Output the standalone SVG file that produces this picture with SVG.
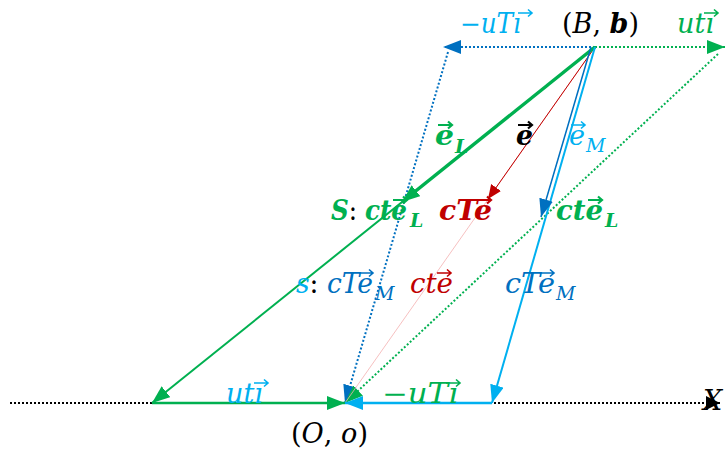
<svg xmlns="http://www.w3.org/2000/svg" width="726" height="450" viewBox="0 0 726 450">
<style>
text{font-family:"DejaVu Serif","Liberation Serif",serif;font-style:italic;font-size:27px}
.b{font-weight:bold}
.n{font-style:normal;font-weight:normal}
.sub{font-size:19px}
.dot{stroke-dasharray:2 2;stroke-width:2;fill:none}
.va{fill:none;stroke-width:1.6}
.vb{fill:none;stroke-width:2.2}
</style>
<defs>
<marker id="mg" markerUnits="userSpaceOnUse" markerWidth="20" markerHeight="16" refX="18" refY="7" orient="auto"><path d="M0,0 L18,7 L0,14 z" fill="#00B050"/></marker>
<marker id="mc" markerUnits="userSpaceOnUse" markerWidth="20" markerHeight="16" refX="18" refY="7" orient="auto"><path d="M0,0 L18,7 L0,14 z" fill="#00B0F0"/></marker>
<marker id="mb" markerUnits="userSpaceOnUse" markerWidth="20" markerHeight="16" refX="18" refY="7" orient="auto"><path d="M0,0 L18,7 L0,14 z" fill="#0070C0"/></marker>
<marker id="mr" markerUnits="userSpaceOnUse" markerWidth="16" markerHeight="14" refX="14" refY="6" orient="auto"><path d="M0,0 L14,6 L0,12 z" fill="#C00000"/></marker>
<marker id="mk" markerUnits="userSpaceOnUse" markerWidth="16" markerHeight="16" refX="14" refY="7" orient="auto"><path d="M0,0 L14,7 L0,14 z" fill="#000"/></marker>
<path id="vec" d="M0,0 H14 M10,-3.5 L14,0 L10,3.5"/>
</defs>
<g id="connectors">
<line x1="10" y1="403" x2="720" y2="403" class="dot" stroke="#000" marker-end="url(#mk)"/>
<line x1="595" y1="47" x2="443" y2="47" class="dot" stroke="#0070C0" marker-end="url(#mb)"/>
<line x1="595" y1="47" x2="725" y2="47" class="dot" stroke="#00B050" marker-end="url(#mg)"/>
<line x1="448" y1="52" x2="345" y2="403" class="dot" stroke="#0070C0" marker-end="url(#mb)"/>
<line x1="718" y1="54" x2="345" y2="403" class="dot" stroke="#00B050" marker-end="url(#mg)"/>
<line x1="595" y1="47" x2="345" y2="403" stroke="#F4B0B0" stroke-width="0.8"/>
<line x1="595" y1="47" x2="488" y2="199" stroke="#C00000" stroke-width="1" marker-end="url(#mr)"/>
<line x1="595" y1="47" x2="152" y2="403" stroke="#00B050" stroke-width="2" marker-end="url(#mg)"/>
<line x1="595" y1="47" x2="402" y2="202" stroke="#00B050" stroke-width="3.5" marker-end="url(#mg)"/>
<line x1="152" y1="403" x2="345" y2="403" stroke="#00B050" stroke-width="2.5" marker-end="url(#mg)"/>
<line x1="595" y1="47" x2="492" y2="403" stroke="#00B0F0" stroke-width="2" marker-end="url(#mc)"/>
<line x1="591" y1="47" x2="541" y2="217" stroke="#0070C0" stroke-width="1.5" marker-end="url(#mb)"/>
<line x1="492" y1="403" x2="345" y2="403" stroke="#00B0F0" stroke-width="2.5" marker-end="url(#mc)"/>
</g>
<g id="labels">
<g id="top-minus-uTi" fill="#00B0F0" stroke="#00B0F0">
<text x="460" y="33" stroke="none" textLength="61" lengthAdjust="spacingAndGlyphs">−uTı</text>
<use href="#vec" x="518" y="13" class="va"/>
</g>
<text id="Bb" x="562" y="33" fill="#000" textLength="77" lengthAdjust="spacingAndGlyphs"><tspan class="n">(</tspan>B<tspan class="n">, </tspan><tspan class="b">b</tspan><tspan class="n">)</tspan></text>
<g id="top-uti" fill="#00B050" stroke="#00B050">
<text x="677" y="33" stroke="none" textLength="37" lengthAdjust="spacingAndGlyphs">utı</text>
<use href="#vec" x="704" y="13" class="va"/>
</g>
<g id="eL" fill="#00B050" stroke="#00B050">
<text x="435" y="145" class="b" stroke="none" textLength="19" lengthAdjust="spacingAndGlyphs">e</text>
<text x="455" y="153" class="b sub" stroke="none">L</text>
<use href="#vec" x="438" y="125" class="vb"/>
</g>
<g id="e" fill="#000" stroke="#000">
<text x="516" y="145" class="b" stroke="none" textLength="17" lengthAdjust="spacingAndGlyphs">e</text>
<use href="#vec" x="518" y="125" class="vb"/>
</g>
<g id="eM" fill="#00B0F0" stroke="#00B0F0">
<text x="569" y="145" stroke="none" textLength="16" lengthAdjust="spacingAndGlyphs">e</text>
<text x="586" y="152" class="sub" stroke="none">M</text>
<use href="#vec" x="571" y="125" class="va"/>
</g>
<g id="S-cteL" fill="#00B050" stroke="#00B050">
<text x="331" y="220" class="b" stroke="none" textLength="76" lengthAdjust="spacingAndGlyphs">S<tspan fill="#000" class="n">: </tspan>cte</text>
<text x="410" y="227" class="b sub" stroke="none">L</text>
<use href="#vec" x="393" y="200" class="vb"/>
</g>
<g id="cTe-bold" fill="#C00000" stroke="#C00000">
<text x="439" y="220" class="b" stroke="none" textLength="53" lengthAdjust="spacingAndGlyphs">cTe</text>
<use href="#vec" x="477" y="200" class="vb"/>
</g>
<g id="cteL-right" fill="#00B050" stroke="#00B050">
<text x="556" y="220" class="b" stroke="none" textLength="47" lengthAdjust="spacingAndGlyphs">cte</text>
<text x="605" y="227" class="b sub" stroke="none">L</text>
<use href="#vec" x="588" y="200" class="vb"/>
</g>
<g id="s-cTeM" fill="#0070C0" stroke="#0070C0">
<text x="296" y="293" stroke="none" textLength="77" lengthAdjust="spacingAndGlyphs"><tspan fill="#00B0F0">s</tspan><tspan fill="#000" class="n">: </tspan>cTe</text>
<text x="375" y="300" class="sub" stroke="none">M</text>
<use href="#vec" x="359" y="273" class="va"/>
</g>
<g id="cte-red" fill="#C00000" stroke="#C00000">
<text x="410" y="293" stroke="none" textLength="43" lengthAdjust="spacingAndGlyphs">cte</text>
<use href="#vec" x="437" y="273" class="va"/>
</g>
<g id="cTeM-right" fill="#0070C0" stroke="#0070C0">
<text x="505" y="293" stroke="none" textLength="50" lengthAdjust="spacingAndGlyphs">cTe</text>
<text x="556" y="300" class="sub" stroke="none">M</text>
<use href="#vec" x="540" y="273" class="va"/>
</g>
<g id="bottom-uti" fill="#00B0F0" stroke="#00B0F0">
<text x="226" y="403" stroke="none" textLength="37" lengthAdjust="spacingAndGlyphs">utı</text>
<use href="#vec" x="254" y="383" class="va"/>
</g>
<g id="bottom-minus-uTi" fill="#00B050" stroke="#00B050">
<text x="382" y="403" stroke="none" textLength="76" lengthAdjust="spacingAndGlyphs">−uTı</text>
<use href="#vec" x="446" y="383" class="va"/>
</g>
<text id="Oo" x="291" y="443" fill="#000" textLength="77" lengthAdjust="spacingAndGlyphs"><tspan class="n">(</tspan>O<tspan class="n">, </tspan>o<tspan class="n">)</tspan></text>
<text id="X" x="703" y="410" fill="#000">X</text>
</g>
</svg>
